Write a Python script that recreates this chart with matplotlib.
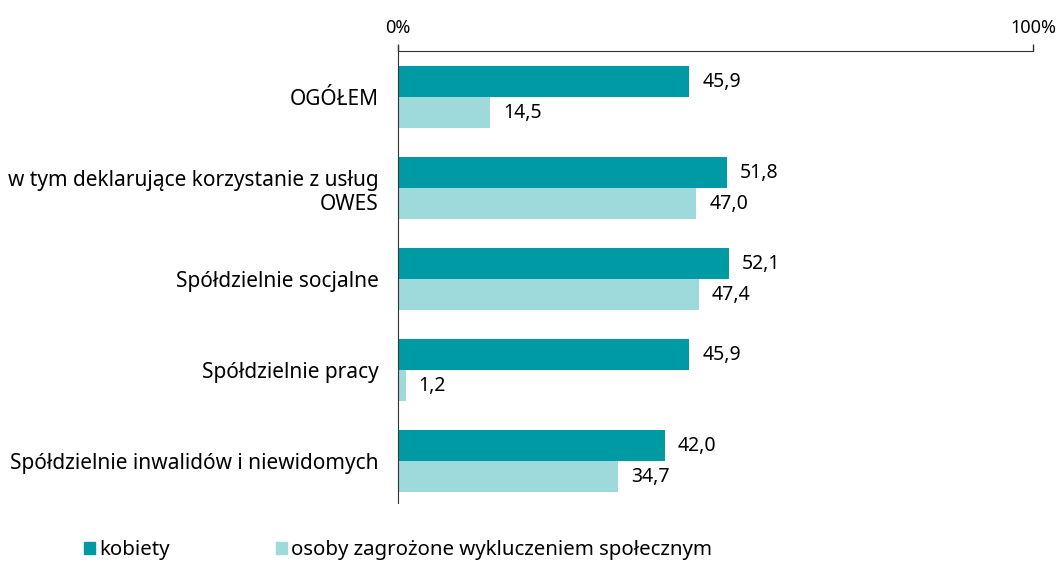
import matplotlib.pyplot as plt
import numpy as np
from matplotlib.patches import Patch

plt.rcParams['font.family'] = ['Noto Sans', 'DejaVu Sans']

kategorie = ['OGÓŁEM', 'w tym deklarujące korzystanie z usług\nOWES', 'Spółdzielnie socjalne',
             'Spółdzielnie pracy', 'Spółdzielnie inwalidów i niewidomych']
kobiety = [45.9, 51.8, 52.1, 45.9, 42.0]
zagrozone = [14.5, 47.0, 47.4, 1.2, 34.7]
serie = ['kobiety', 'osoby zagrożone wykluczeniem społecznym']
kolory = ['#009aa5', '#9ed9dc']

fig = plt.figure(figsize=(10.6, 5.66), dpi=100)
ax = fig.add_axes([0.3755, 0.1113, 0.599, 0.7986])

y = np.arange(len(kategorie))
h = 0.34
b1 = ax.barh(y - h / 2, kobiety, height=h, color=kolory[0])
b2 = ax.barh(y + h / 2, zagrozone, height=h, color=kolory[1])

for bars, vals in [(b1, kobiety), (b2, zagrozone)]:
    for b, v in zip(bars, vals):
        ax.text(v + 2, b.get_y() + b.get_height() / 2, f'{v:.1f}'.replace('.', ','),
                va='center', ha='left', fontsize=14)

ax.set_xlim(0, 100)
ax.set_ylim(4.46, -0.51)
ax.set_yticks(y)
ax.set_yticklabels(kategorie, fontsize=15, ha='center')
for lab in ax.get_yticklabels():
    lab.set_horizontalalignment('right')
ax.tick_params(axis='y', length=0, pad=14)

ax.xaxis.tick_top()
ax.set_xticks([0, 100])
ax.set_xticklabels(['0%', '100%'], fontsize=13)
ax.tick_params(axis='x', length=5, width=1, color='#333333', pad=5)

ax.spines['right'].set_visible(False)
ax.spines['bottom'].set_visible(False)
ax.spines['top'].set_color('#333333')
ax.spines['left'].set_color('#333333')
ax.spines['left'].set_bounds(4.46, -0.56)

handles = [Patch(color=kolory[0]), Patch(color=kolory[1])]
fig.legend(handles, serie, loc='lower left', bbox_to_anchor=(0.062, -0.022), ncol=2,
           frameon=False, fontsize=14.7, handlelength=0.55, handleheight=0.55,
           handletextpad=0.2, columnspacing=5.2)

fig.savefig('out.png', dpi=100)
